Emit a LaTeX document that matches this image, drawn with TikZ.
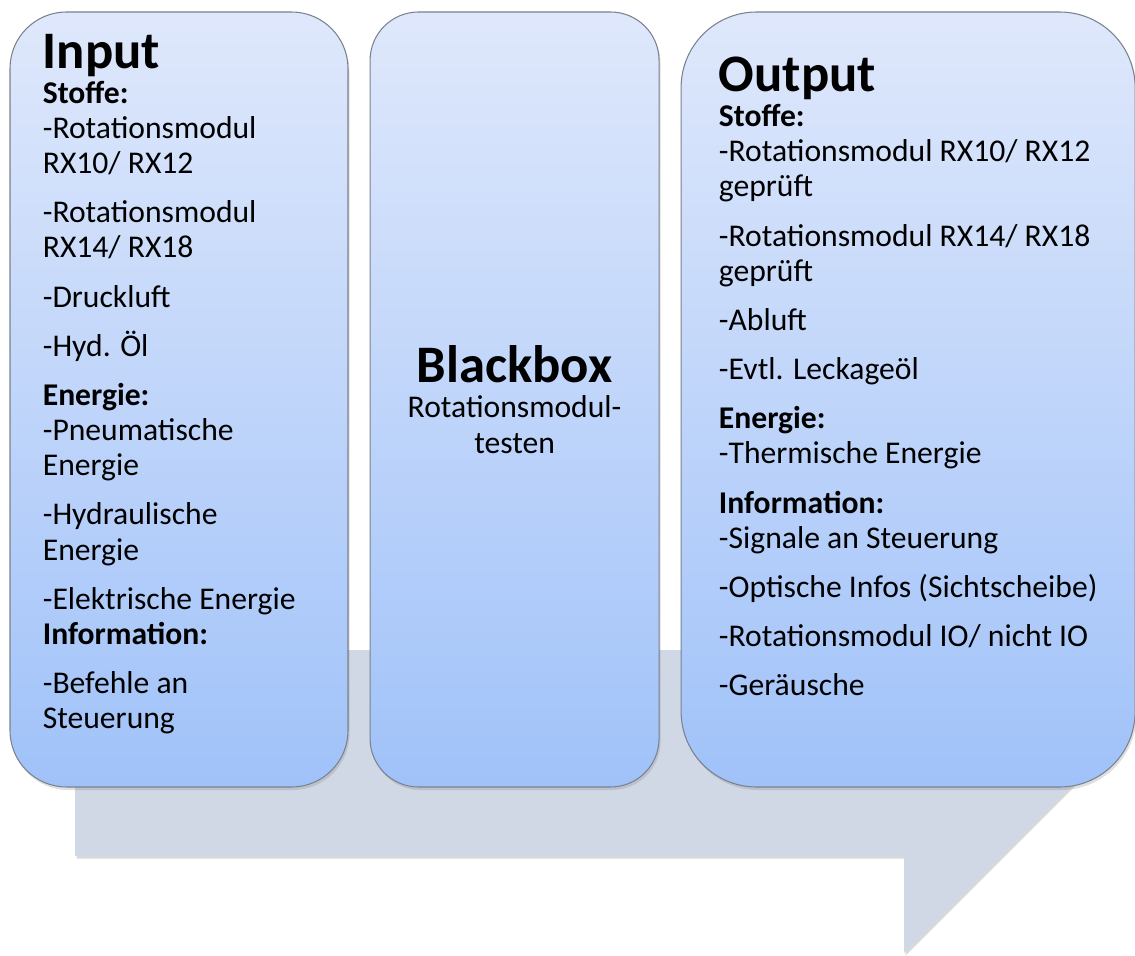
\documentclass[tikz,border=0pt]{standalone}
\usepackage{fontspec}
\setmainfont{Carlito}
\usetikzlibrary{positioning,shadows}

\definecolor{boxtop}{RGB}{223,232,251}
\definecolor{boxbottom}{RGB}{160,194,249}
\definecolor{boxline}{RGB}{122,130,142}
\definecolor{arrowgray}{RGB}{208,215,229}

\newcommand{\headfont}{\fontsize{30}{20}\selectfont\bfseries}
\newcommand{\psep}{8pt}

\begin{document}
\begin{tikzpicture}[
	box/.style={draw=boxline, line width=0.6pt, top color=boxtop, bottom color=boxbottom,
		inner sep=0pt, minimum height=15.5cm,
		drop shadow={shadow xshift=0.03cm, shadow yshift=-0.06cm, opacity=0.25}},
	txt/.style={align=left, inner sep=0pt, font=\fontsize{18}{20}\selectfont}
]
	\useasboundingbox (0,0) rectangle (22.7,19.1);

	%arrow in the background
	\fill[arrowgray, drop shadow={shadow xshift=0.03cm, shadow yshift=-0.05cm, opacity=0.3}]
		(1.5,6.1) -- (18.08,6.1) -- (18.08,8.04) -- (22.08,4.04)
		-- (18.08,0.04) -- (18.08,1.98) -- (1.5,1.98) -- cycle;

	%the three boxes
	\node[box, minimum width=6.76cm, rounded corners=1.13cm] (in) at (3.58,11.11){};
	\node[box, minimum width=5.78cm, rounded corners=0.97cm, right=0.42cm of in, align=center,
		font=\fontsize{18}{20}\selectfont] (bb)
		{{\headfont Blackbox}\\Rotationsmodul-\\testen};
	\node[box, minimum width=9.08cm, rounded corners=1.51cm, right=0.42cm of bb] (out){};

	%input text
	\node[txt, below right=0.44cm and 0.66cm of in.north west] (intxt){%
		{\headfont Input}\\
		\textbf{Stoffe:}\\
		-Rotationsmodul\\
		RX10/ RX12\\[\psep]
		-Rotationsmodul\\
		RX14/ RX18\\[\psep]
		-Druckluft\\[\psep]
		-Hyd. Öl\\[\psep]
		\textbf{Energie:}\\
		-Pneumatische\\
		Energie\\[\psep]
		-Hydraulische\\
		Energie\\[\psep]
		-Elektrische Energie\\
		\textbf{Information:}\\[\psep]
		-Befehle an\\
		Steuerung};

	%output text
	\node[txt, below right=0.9cm and 0.76cm of out.north west] (outtxt){%
		{\headfont Output}\\
		\textbf{Stoffe:}\\
		-Rotationsmodul RX10/ RX12\\
		geprüft\\[\psep]
		-Rotationsmodul RX14/ RX18\\
		geprüft\\[\psep]
		-Abluft\\[\psep]
		-Evtl. Leckageöl\\[\psep]
		\textbf{Energie:}\\
		-Thermische Energie\\[\psep]
		\textbf{Information:}\\
		-Signale an Steuerung\\[\psep]
		-Optische Infos (Sichtscheibe)\\[\psep]
		-Rotationsmodul IO/ nicht IO\\[\psep]
		-Geräusche};

\end{tikzpicture}
\end{document}
